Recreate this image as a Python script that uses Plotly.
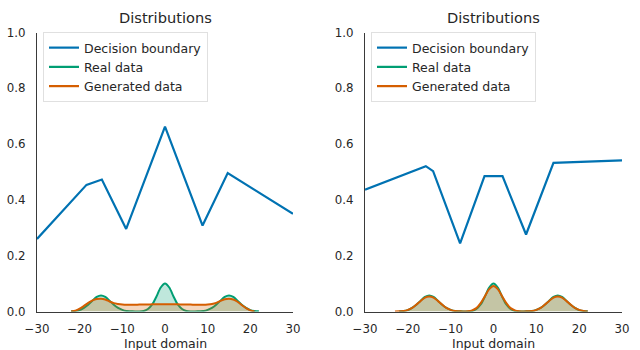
import plotly.graph_objects as go

# ---------------- data ----------------
# decision boundary (left / right panels)
db_left_x = [-30, -18.4, -14.8, -9.1, 0, 8.8, 14.7, 30]
db_left_y = [0.26, 0.454, 0.473, 0.296, 0.663, 0.308, 0.496, 0.35]
db_right_x = [-30, -15.8, -14.1, -7.8, -2.1, 2.1, 7.6, 14.0, 30]
db_right_y = [0.437, 0.521, 0.503, 0.244, 0.485, 0.485, 0.276, 0.533, 0.542]

# real data density (same in both panels)
real_x = list(range(-22, 23))
real_y = [0.001, 0.002, 0.005, 0.013, 0.024, 0.039, 0.052, 0.057, 0.052, 0.039,
          0.024, 0.013, 0.006, 0.002, 0.001, 0.000, 0.000,
          0.002, 0.009, 0.025, 0.054, 0.086, 0.100, 0.086, 0.054, 0.025, 0.009, 0.002,
          0.000, 0.000,
          0.001, 0.002, 0.006, 0.013, 0.024, 0.039, 0.052, 0.057, 0.052, 0.039,
          0.024, 0.013, 0.005, 0.002, 0.001]

# generated data density, left panel
gen_left_x = list(range(-22, 22))
gen_left_y = [0.000, 0.003, 0.010, 0.020, 0.031, 0.040, 0.045, 0.046, 0.043, 0.036,
              0.030, 0.027, 0.025, 0.024, 0.024, 0.024, 0.025, 0.025, 0.025, 0.026,
              0.026, 0.026, 0.026, 0.026, 0.026, 0.026, 0.025, 0.025, 0.025, 0.024,
              0.024, 0.024, 0.025, 0.027, 0.031, 0.038, 0.044, 0.046, 0.043, 0.035,
              0.023, 0.012, 0.004, 0.000]

# generated data density, right panel
gen_right_x = list(range(-23, 23))
gen_right_y = [0.000, 0.001, 0.002, 0.006, 0.013, 0.025, 0.038, 0.050, 0.054, 0.050,
               0.038, 0.025, 0.013, 0.006, 0.002, 0.001, 0.000, 0.001,
               0.004, 0.012, 0.030, 0.055, 0.080, 0.091, 0.080, 0.055, 0.030, 0.012, 0.004,
               0.001, 0.000,
               0.001, 0.002, 0.006, 0.013, 0.025, 0.038, 0.050, 0.054, 0.050, 0.038,
               0.025, 0.013, 0.006, 0.002, 0.000]

x_ticks = [-30, -20, -10, 0, 10, 20, 30]
y_ticks = [0.0, 0.2, 0.4, 0.6, 0.8, 1.0]
series_names = ["Decision boundary", "Real data", "Generated data"]
titles = ["Distributions", "Distributions"]
x_title = "Input domain"

# ---------------- style ----------------
BLUE = "#0072B2"
GREEN = "#009E73"
ORANGE = "#D55E00"
GREEN_FILL = "rgba(0,158,115,0.25)"
ORANGE_FILL = "rgba(213,94,0,0.25)"
FONT = "DejaVu Sans"
TXT = "#262626"

fig = go.Figure()

panels = [
    ("x", "y", "legend", db_left_x, db_left_y, gen_left_x, gen_left_y),
    ("x2", "y2", "legend2", db_right_x, db_right_y, gen_right_x, gen_right_y),
]

for xa, ya, lg, dbx, dby, gx, gy in panels:
    # densities
    fig.add_trace(go.Scatter(x=real_x, y=real_y, xaxis=xa, yaxis=ya, mode="lines",
                             line=dict(color=GREEN, width=2, shape="spline", smoothing=0.8),
                             fill="tozeroy", fillcolor=GREEN_FILL, showlegend=False,
                             hoverinfo="skip"))
    fig.add_trace(go.Scatter(x=gx, y=gy, xaxis=xa, yaxis=ya, mode="lines",
                             line=dict(color=ORANGE, width=2, shape="spline", smoothing=0.8),
                             fill="tozeroy", fillcolor=ORANGE_FILL, showlegend=False,
                             hoverinfo="skip"))
    # decision boundary
    fig.add_trace(go.Scatter(x=dbx, y=dby, xaxis=xa, yaxis=ya, mode="lines",
                             line=dict(color=BLUE, width=2.2), name=series_names[0],
                             legend=lg, showlegend=True, hoverinfo="skip"))
    # legend-only line entries
    for nm, col in [(series_names[1], GREEN), (series_names[2], ORANGE)]:
        fig.add_trace(go.Scatter(x=[None], y=[None], xaxis=xa, yaxis=ya, mode="lines",
                                 line=dict(color=col, width=2.2), name=nm,
                                 legend=lg, showlegend=True))

ydom = [0.110, 0.907]
xdoms = [[37 / 640, 293 / 640], [365 / 640, 622 / 640]]

axis_common = dict(showgrid=False, zeroline=False, showline=True, linewidth=1.3,
                   linecolor="#3a3a3a", ticks="outside", tickcolor="rgba(0,0,0,0)",
                   tickfont=dict(family=FONT, size=11.8, color=TXT), automargin=False)

fig.update_layout(
    width=640, height=350,
    margin=dict(l=0, r=0, t=0, b=0),
    paper_bgcolor="white", plot_bgcolor="white",
    font=dict(family=FONT, color=TXT),
    hovermode=False,
    xaxis=dict(domain=xdoms[0], range=[-30, 30], tickvals=x_ticks, ticklen=6,
               anchor="y", **axis_common),
    yaxis=dict(domain=ydom, range=[0, 1], tickvals=y_ticks, tickformat=".1f",
               ticklen=8, anchor="x", **axis_common),
    xaxis2=dict(domain=xdoms[1], range=[-30, 30], tickvals=x_ticks, ticklen=6,
                anchor="y2", **axis_common),
    yaxis2=dict(domain=ydom, range=[0, 1], tickvals=y_ticks, tickformat=".1f",
                ticklen=8, anchor="x2", **axis_common),
    legend=dict(x=43 / 640, y=1 - 32 / 350, xanchor="left", yanchor="top",
                bgcolor="rgba(255,255,255,0.85)", bordercolor="#e0e0e0", borderwidth=1,
                font=dict(family=FONT, size=12.5, color=TXT), tracegroupgap=0,
                itemwidth=30),
    legend2=dict(x=371 / 640, y=1 - 32 / 350, xanchor="left", yanchor="top",
                 bgcolor="rgba(255,255,255,0.85)", bordercolor="#e0e0e0", borderwidth=1,
                 font=dict(family=FONT, size=12.5, color=TXT), tracegroupgap=0,
                 itemwidth=30),
)

for i, xd in enumerate(xdoms):
    cx = (xd[0] + xd[1]) / 2
    fig.add_annotation(text=titles[i], x=cx, y=1 - 18 / 350, xref="paper", yref="paper",
                       xanchor="center", yanchor="middle", showarrow=False,
                       font=dict(family=FONT, size=14.6, color=TXT))
    fig.add_annotation(text=x_title, x=cx, y=1 - 343 / 350, xref="paper", yref="paper",
                       xanchor="center", yanchor="middle", showarrow=False,
                       font=dict(family=FONT, size=12.5, color=TXT))

fig.write_html("out.html", config={"displayModeBar": False},
               post_script="document.body.style.margin='0';document.body.style.overflow='hidden';")
